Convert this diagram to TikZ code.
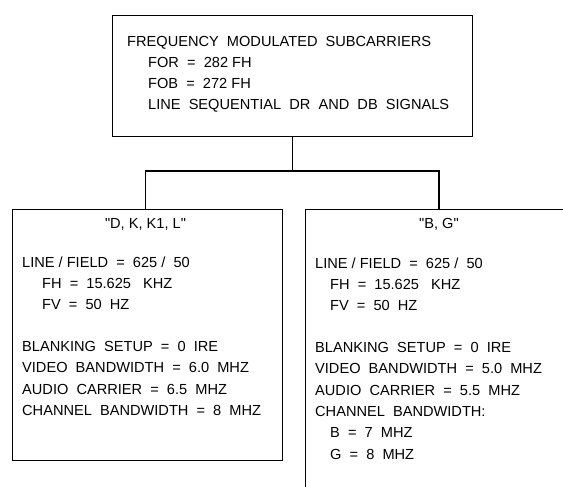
\documentclass[tikz,border=0pt]{standalone}
\usepackage{fontspec}
\setmainfont{Liberation Sans}
\font\qfont="Liberation Sans" at 14.6pt
\newcommand{\qq}{{\qfont "}}
\begin{document}
\begin{tikzpicture}[x=1pt,y=-1pt,
  box/.style={draw,line width=1.3pt,rectangle,inner sep=0pt,anchor=north west},
  txt/.style={anchor=base west,inner sep=0pt,font=\fontsize{14.6}{17}\selectfont},
  ctxt/.style={anchor=base,inner sep=0pt,font=\fontsize{14.6}{17}\selectfont},
  wire/.style={line width=1.3pt}]
\useasboundingbox (0,0) rectangle (563,487);
\fill[white] (0,0) rectangle (563,487);
% boxes
\node[box,minimum width=360pt,minimum height=121pt] (top) at (112,15) {};
\node[box,minimum width=270pt,minimum height=251pt] (left) at (11.5,209) {};
\node[box,minimum width=300pt,minimum height=320pt] (right) at (304.5,209) {};
% connectors
\coordinate (tb) at (292.5,136);
\coordinate (j) at (292.5,171);
\coordinate (lt) at (145.5,209);
\coordinate (rt) at (439,209);
\draw[wire] (tb) -- (j);
\draw[wire] (lt) |- (j) -| (rt);
% top text
\node[txt] (t1) at (127,47) {FREQUENCY~ MODULATED~ SUBCARRIERS};
\node[txt] (t2) at (148,68) {FOR~ =~ 282 FH};
\node[txt] (t3) at (148,89) {FOB~ =~ 272 FH};
\node[txt] (t4) at (148,110) {LINE~ SEQUENTIAL~ DR~ AND~ DB~ SIGNALS};
% left text
\node[ctxt] (l0) at (145.5,228) {\qq D, K, K1, L\qq};
\node[txt] (l1) at (22,267) {LINE / FIELD~ =~ 625 /~ 50};
\node[txt] (l2) at (42,288) {FH~ =~ 15.625~~ KHZ};
\node[txt] (l3) at (42,309) {FV~ =~ 50~ HZ};
\node[txt] (l4) at (22,351) {BLANKING~ SETUP~ =~ 0~ IRE};
\node[txt] (l5) at (22,372) {VIDEO~ BANDWIDTH~ =~ 6.0~ MHZ};
\node[txt] (l6) at (22,394) {AUDIO~ CARRIER~ =~ 6.5~ MHZ};
\node[txt] (l7) at (22,415) {CHANNEL~ BANDWIDTH~ =~ 8~ MHZ};
% right text
\node[ctxt] (r0) at (439,228) {\qq B, G\qq};
\node[txt] (r1) at (315,268) {LINE / FIELD~ =~ 625 /~ 50};
\node[txt] (r2) at (330,289) {FH~ =~ 15.625~~ KHZ};
\node[txt] (r3) at (330,310) {FV~ =~ 50~ HZ};
\node[txt] (r4) at (315,352) {BLANKING~ SETUP~ =~ 0~ IRE};
\node[txt] (r5) at (315,373) {VIDEO~ BANDWIDTH~ =~ 5.0~ MHZ};
\node[txt] (r6) at (315,395) {AUDIO~ CARRIER~ =~ 5.5~ MHZ};
\node[txt] (r7) at (315,416) {CHANNEL~ BANDWIDTH:};
\node[txt] (r8) at (330,437) {B~ =~ 7~ MHZ};
\node[txt] (r9) at (330,459) {G~ =~ 8~ MHZ};
\end{tikzpicture}
\end{document}
